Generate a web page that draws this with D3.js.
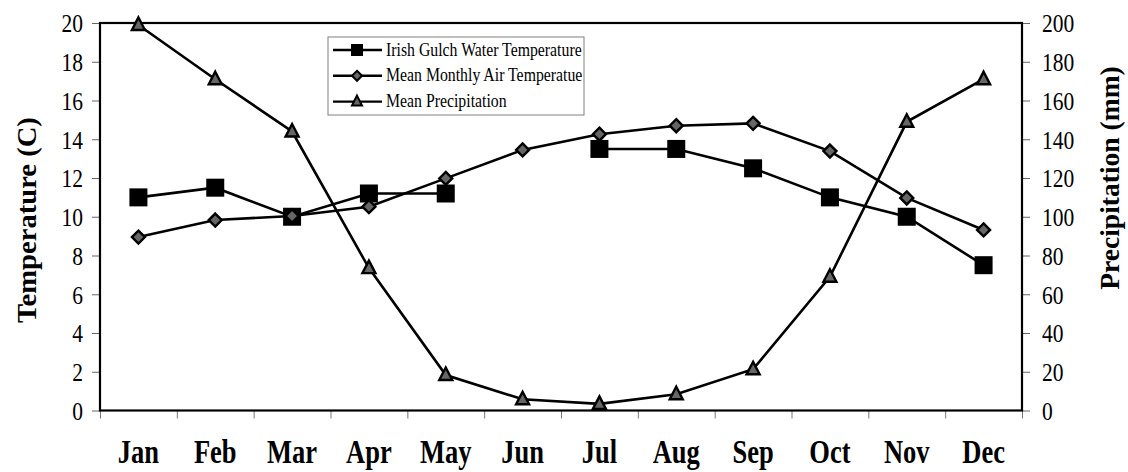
<!DOCTYPE html>
<html><head><meta charset="utf-8">
<script src="https://cdn.jsdelivr.net/npm/d3@7/dist/d3.min.js"></script>
<style>body{margin:0;background:#fff}svg{display:block}text{font-family:"Liberation Serif","Times New Roman",serif}</style>
</head><body><svg id="c" width="1128" height="472"></svg>
<script>
const months = ["Jan","Feb","Mar","Apr","May","Jun","Jul","Aug","Sep","Oct","Nov","Dec"];
const waterTemp = [11.0, 11.5, 10.0, 11.2, 11.2, null, 13.5, 13.5, 12.5, 11.0, 10.0, 7.5];
const airTemp = [8.95, 9.83, 10.04, 10.52, 11.98, 13.45, 14.26, 14.7, 14.82, 13.39, 10.97, 9.32];
const precip = [199, 171, 144, 73.5, 18.3, 5.8, 3.4, 8.4, 21.3, 69, 149, 171];
const leftTicks = [0,2,4,6,8,10,12,14,16,18,20];
const rightTicks = [0,20,40,60,80,100,120,140,160,180,200];
const seriesNames = ["Irish Gulch Water Temperature","Mean Monthly Air Temperatue","Mean Precipitation"];

const svg = d3.select("#c");
const L = 100, R = 1022, T = 23, B = 410.5;
const SY = 1.22; // vertical stretch of the original picture's text
const x = d3.scaleBand().domain(months).range([L, R]);
const yT = d3.scaleLinear().domain([0, 20]).range([B, T]);
const yP = d3.scaleLinear().domain([0, 200]).range([B, T]);
const cx = m => x(m) + x.bandwidth() / 2;

// axes
const gl = svg.append("g").attr("transform", `translate(${L},0)`)
  .call(d3.axisLeft(yT).tickValues(leftTicks).tickSize(8).tickPadding(9).tickFormat(d3.format("d")));
const gr = svg.append("g").attr("transform", `translate(${R},0)`)
  .call(d3.axisRight(yP).tickValues(rightTicks).tickSize(8).tickPadding(12).tickFormat(d3.format("d")));
[gl, gr].forEach(g => {
  g.select(".domain").remove();
  g.selectAll(".tick line").attr("stroke", "#666").attr("stroke-width", 1);
  g.selectAll(".tick text").attr("font-size", 21.5).attr("fill", "#000")
    .attr("font-family", "Liberation Serif").attr("dy", "0.34em")
    .attr("transform", `scale(1,${SY})`);
});
// bottom ticks at category boundaries
const xb = d3.scaleLinear().domain([0, 12]).range([L, R]);
svg.append("g").attr("transform", `translate(0,${B})`)
  .call(d3.axisBottom(xb).ticks(12).tickSize(8).tickFormat(""))
  .call(g => g.select(".domain").remove())
  .call(g => g.selectAll(".tick line").attr("stroke", "#777").attr("stroke-width", 1));
// month labels
svg.append("g").selectAll("text").data(months).join("text")
  .attr("transform", d => `translate(${cx(d)},463) scale(1,1.28)`).attr("text-anchor", "middle")
  .attr("font-size", 26.5).attr("font-weight", "bold").text(d => d);

// frame
svg.append("rect").attr("x", L).attr("y", T).attr("width", R - L).attr("height", B - T)
  .attr("fill", "none").attr("stroke", "#000").attr("stroke-width", 2.2);

// axis titles
svg.append("text").attr("transform", `translate(36,220) rotate(-90) scale(1.06,1)`)
  .attr("text-anchor", "middle").attr("font-size", 27).attr("font-weight", "bold").text("Temperature (C)");
svg.append("text").attr("transform", `translate(1119,178) rotate(-90) scale(1.02,1)`)
  .attr("text-anchor", "middle").attr("font-size", 27).attr("font-weight", "bold").text("Precipitation (mm)");

// lines
const lineT = d3.line().defined(d => d.v != null).x(d => cx(d.m)).y(d => yT(d.v));
const lineP = d3.line().x(d => cx(d.m)).y(d => yP(d.v));
const wd = months.map((m, i) => ({m, v: waterTemp[i]}));
const ad = months.map((m, i) => ({m, v: airTemp[i]}));
const pd = months.map((m, i) => ({m, v: precip[i]}));

function square(g, x0, y0) {
  g.append("rect").attr("x", x0 - 9).attr("y", y0 - 9).attr("width", 18).attr("height", 18).attr("fill", "#000");
}
function diamond(g, x0, y0) {
  g.append("path").attr("d", `M${x0},${y0-6.5}L${x0+6.5},${y0}L${x0},${y0+6.5}L${x0-6.5},${y0}Z`)
    .attr("fill", "#666").attr("stroke", "#000").attr("stroke-width", 2.4);
}
function triangle(g, x0, y0) {
  g.append("path").attr("d", `M${x0},${y0-7.5}L${x0+6.5},${y0+5}L${x0-6.5},${y0+5}Z`)
    .attr("fill", "#666").attr("stroke", "#000").attr("stroke-width", 2.4).attr("stroke-linejoin", "miter");
}

const LW = 2.6;
const gw = svg.append("g");
gw.append("path").datum(wd).attr("d", lineT).attr("fill", "none").attr("stroke", "#000").attr("stroke-width", LW);
wd.filter(d => d.v != null).forEach(d => square(gw, cx(d.m), yT(d.v)));
const ga = svg.append("g");
ga.append("path").datum(ad).attr("d", lineT).attr("fill", "none").attr("stroke", "#000").attr("stroke-width", LW);
ad.forEach(d => diamond(ga, cx(d.m), yT(d.v)));
const gp = svg.append("g");
gp.append("path").datum(pd).attr("d", lineP).attr("fill", "none").attr("stroke", "#000").attr("stroke-width", LW);
pd.forEach(d => triangle(gp, cx(d.m), yP(d.v)));

// legend
const lg = svg.append("g");
lg.append("rect").attr("x", 328).attr("y", 37).attr("width", 256).attr("height", 78)
  .attr("fill", "#fff").attr("stroke", "#808080").attr("stroke-width", 1);
seriesNames.forEach((s, i) => {
  const yy = 50 + i * 25.8;
  lg.append("line").attr("x1", 333).attr("x2", 382).attr("y1", yy).attr("y2", yy)
    .attr("stroke", "#000").attr("stroke-width", 2.4);
  const mg = lg.append("g");
  if (i === 0) mg.append("rect").attr("x", 351).attr("y", yy - 6).attr("width", 12).attr("height", 12).attr("fill", "#000");
  else if (i === 1) mg.append("path").attr("d", `M357,${yy-5}L362,${yy}L357,${yy+5}L352,${yy}Z`).attr("fill", "#666").attr("stroke", "#000").attr("stroke-width", 2);
  else mg.append("path").attr("d", `M357,${yy-6}L362,${yy+4}L352,${yy+4}Z`).attr("fill", "#666").attr("stroke", "#000").attr("stroke-width", 2);
  lg.append("text").attr("transform", `translate(386,${yy + 5.5}) scale(1,1.15)`).attr("font-size", 15.8).text(s);
});
</script></body></html>
